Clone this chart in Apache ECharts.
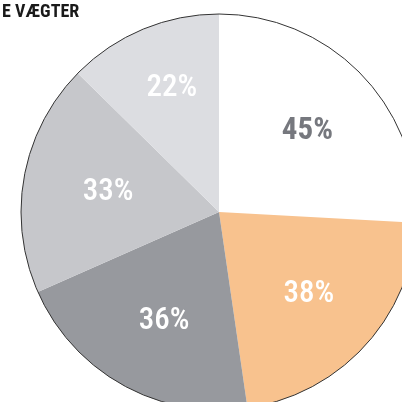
<!DOCTYPE html>
<html>
<head>
<meta charset="utf-8">
<script src="https://cdn.jsdelivr.net/npm/echarts@6/dist/echarts.min.js"></script>
<style>html,body{margin:0;padding:0;background:#fff}#c{width:402px;height:402px}</style>
</head>
<body>
<div id="c"></div>
<script>
var titleText = 'E VÆGTER';
var categories = ['A', 'B', 'C', 'D', 'E'];
var values = [45, 38, 36, 33, 22];
var colors = ['#ffffff', '#F8C28E', '#97999E', '#C6C7CB', '#DCDDE1'];
var labelColors = ['#76787E', '#ffffff', '#ffffff', '#ffffff', '#ffffff'];
var labelWeights = ['bold', 500, 500, 500, 500];
// small manual nudges of label positions (px)
var labelNudge = [[0, 3], [0, 0], [4, 3], [9, 2], [0, -11]];

var chart = echarts.init(document.getElementById('c'));
var center = [219, 212];
var R = 198;
var labelFont = '"Roboto Condensed", "DejaVu Sans Condensed", "Liberation Sans Narrow", sans-serif';

var mainData = categories.map(function (c, i) {
  return { name: c, value: values[i], itemStyle: { color: colors[i] } };
});
var labelData = categories.map(function (c, i) {
  return { name: c, value: values[i], label: { color: labelColors[i], fontWeight: labelWeights[i] } };
});

chart.setOption({
  animation: false,
  title: {
    text: titleText,
    left: -3,
    top: -2,
    textStyle: { fontFamily: labelFont, fontWeight: 'bold', fontSize: 18, color: '#1a1a1a' }
  },
  series: [
    {
      type: 'pie',
      center: center,
      radius: [0, R],
      startAngle: 90,
      clockwise: true,
      silent: true,
      label: { show: false },
      labelLine: { show: false },
      itemStyle: { borderWidth: 0 },
      data: mainData
    },
    {
      type: 'pie',
      center: center,
      radius: [0, R],
      silent: true,
      label: { show: false },
      labelLine: { show: false },
      itemStyle: { color: 'rgba(0,0,0,0)', borderColor: '#333', borderWidth: 1 },
      data: [{ name: 'outline', value: 1 }]
    },
    {
      type: 'pie',
      center: center,
      radius: [R * 0.2, R],
      startAngle: 90,
      clockwise: true,
      silent: true,
      itemStyle: { color: 'rgba(0,0,0,0)', borderWidth: 0 },
      label: {
        show: true,
        position: 'inside',
        formatter: '{c}%',
        fontFamily: labelFont,
        fontSize: 31
      },
      labelLayout: function (p) {
        var n = labelNudge[p.dataIndex] || [0, 0];
        return { dx: n[0], dy: n[1] };
      },
      labelLine: { show: false },
      data: labelData
    }
  ]
});
</script>
</body>
</html>
